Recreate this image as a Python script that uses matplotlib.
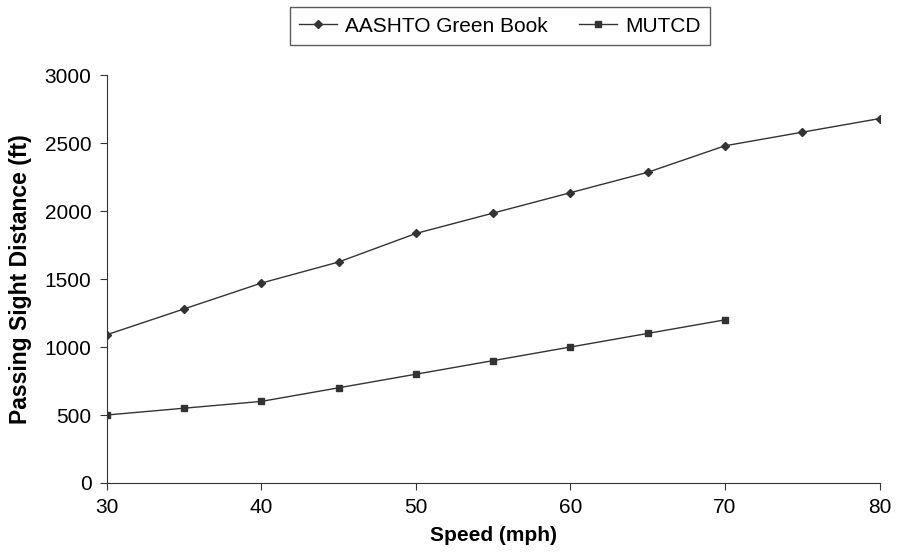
import matplotlib
matplotlib.use("Agg")
import matplotlib.pyplot as plt

plt.rcParams['font.family'] = ['Liberation Sans', 'DejaVu Sans']

speed_aashto = [30, 35, 40, 45, 50, 55, 60, 65, 70, 75, 80]
psd_aashto = [1090, 1280, 1470, 1625, 1835, 1985, 2135, 2285, 2480, 2580, 2680]
speed_mutcd = [30, 35, 40, 45, 50, 55, 60, 65, 70]
psd_mutcd = [500, 550, 600, 700, 800, 900, 1000, 1100, 1200]

fig = plt.figure(figsize=(9.04, 5.52), dpi=100)
ax = fig.add_axes([0.118, 0.125, 0.855, 0.739])

col = '#333333'
ax.plot(speed_aashto, psd_aashto, color=col, lw=1, marker='D', ms=4.5,
        label='AASHTO Green Book')
ax.plot(speed_mutcd, psd_mutcd, color=col, lw=1, marker='s', ms=5,
        label='MUTCD')

ax.set_xlim(30, 80)
ax.set_ylim(0, 3000)
ax.set_xticks(range(30, 81, 10))
ax.set_yticks(range(0, 3001, 500))
ax.spines['top'].set_visible(False)
ax.spines['right'].set_visible(False)
for s in ['left', 'bottom']:
    ax.spines[s].set_color(col)
ax.tick_params(axis='both', labelsize=15, color=col, length=5, direction='out', pad=6)
ax.set_xlabel('Speed (mph)', fontsize=15, fontweight='bold', labelpad=6)
ax.set_ylabel('Passing Sight Distance (ft)', fontsize=16.5, fontweight='bold', labelpad=9)

leg = fig.legend(loc='upper center', bbox_to_anchor=(0.553, 0.987), ncol=2,
                 frameon=True, fancybox=False, edgecolor=col, fontsize=15,
                 handlelength=1.8, handletextpad=0.4, columnspacing=1.5,
                 borderpad=0.45, borderaxespad=0, markerscale=0.8)
leg.get_frame().set_linewidth(1)

fig.savefig('out.png', dpi=100)
